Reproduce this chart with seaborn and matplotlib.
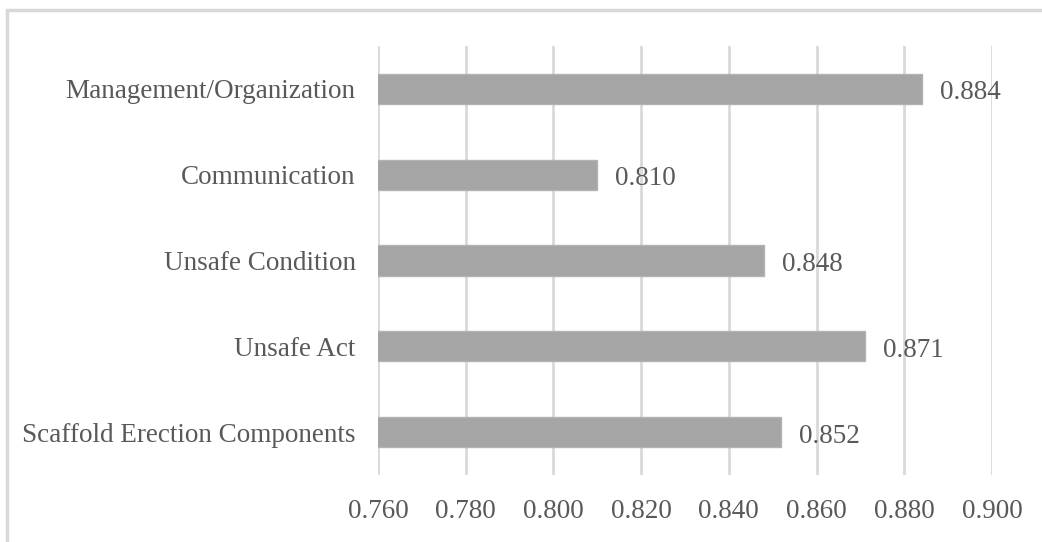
import pandas as pd
import numpy as np
import matplotlib.pyplot as plt
import seaborn as sns
from matplotlib.patches import Rectangle

# values
factors = ['Management/Organization', 'Communication', 'Unsafe Condition',
           'Unsafe Act', 'Scaffold Erection Components']
scores = [0.884, 0.810, 0.848, 0.871, 0.852]
ticks = [0.760, 0.780, 0.800, 0.820, 0.840, 0.860, 0.880, 0.900]

df = pd.DataFrame({'factor': factors, 'score': scores})

sns.set_style('white')
plt.rcParams['font.family'] = ['Liberation Serif', 'DejaVu Serif']
text_col = '#595959'
fs = 19.5

fig = plt.figure(figsize=(10.42, 5.42), dpi=100)
ax = fig.add_axes([378 / 1042, 1 - 475 / 542, 614 / 1042, 429 / 542])

sns.barplot(data=df, x='score', y='factor', orient='h', color='#a5a5a5',
            width=0.35, edgecolor='#b3b3b3', linewidth=1, saturation=1, ax=ax)

ax.set_xlim(0.760, 0.900)
ax.set_xticks(ticks, [f'{t:.3f}' for t in ticks])
ax.set_xlabel('')
ax.set_ylabel('')
ax.grid(axis='x', color='#d9d9d9', linewidth=2)
ax.set_axisbelow(True)
for s in ax.spines.values():
    s.set_visible(False)
ax.tick_params(axis='both', length=0, labelsize=fs, labelcolor=text_col)
ax.tick_params(axis='x', pad=17)
ax.tick_params(axis='y', pad=16)

for i, v in enumerate(scores):
    ax.annotate(f'{v:.3f}', (v, i), xytext=(18, -4), textcoords='offset pixels',
                ha='left', va='center', fontsize=fs, color=text_col)

# outer chart frame (cut off on the right and bottom in the reference)
fig.patches.append(Rectangle((7 / 1042, -0.1), 1.2, 1.1 - 9.5 / 542,
                             transform=fig.transFigure, fill=False,
                             edgecolor='#d9d9d9', linewidth=2.5))

fig.savefig('out.png', dpi=100, facecolor='white')
